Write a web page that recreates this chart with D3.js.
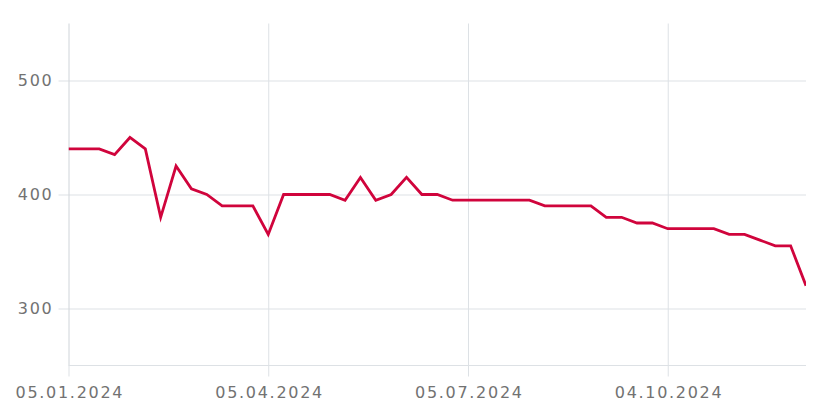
<!DOCTYPE html>
<html>
<head>
<meta charset="utf-8">
<script src="https://cdn.jsdelivr.net/npm/d3@7"></script>
<style>
  html, body { margin: 0; padding: 0; background: #fff; }
  svg { display: block; }
  .tick text { font-family: "DejaVu Sans", sans-serif; font-size: 16px; fill: #727272; letter-spacing: 1.7px; }
</style>
</head>
<body>
<svg id="chart" width="820" height="413"></svg>
<script>
const dates = [
  "2024-01-05","2024-01-12","2024-01-19","2024-01-26",
  "2024-02-02","2024-02-09","2024-02-16","2024-02-23",
  "2024-03-01","2024-03-08","2024-03-15","2024-03-22","2024-03-29",
  "2024-04-05","2024-04-12","2024-04-19","2024-04-26",
  "2024-05-03","2024-05-10","2024-05-17","2024-05-24","2024-05-31",
  "2024-06-07","2024-06-14","2024-06-21","2024-06-28",
  "2024-07-05","2024-07-12","2024-07-19","2024-07-26",
  "2024-08-02","2024-08-09","2024-08-16","2024-08-23","2024-08-30",
  "2024-09-06","2024-09-13","2024-09-20","2024-09-27",
  "2024-10-04","2024-10-11","2024-10-18","2024-10-25",
  "2024-11-01","2024-11-08","2024-11-15","2024-11-22","2024-11-29",
  "2024-12-06"
];
const values = [
  440,440,440,435,450,440,380,425,405,400,
  390,390,390,365,400,400,400,400,395,415,
  395,400,415,400,400,395,395,395,395,395,
  395,390,390,390,390,380,380,375,375,370,
  370,370,370,365,365,360,355,355,320
];
const xTickDates = ["2024-01-05","2024-04-05","2024-07-05","2024-10-04"];
const xTickLabels = ["05.01.2024","05.04.2024","05.07.2024","04.10.2024"];
const yTicks = [300, 400, 500];
const yDomain = [250, 550];

(function () {
const parse = d3.utcParse("%Y-%m-%d");
const data = dates.map((d, i) => ({ date: parse(d), value: values[i] }));

const mLeft = 68.5, mRight = 806, mTop = 23.5, mBottom = 365.5;
const svg = d3.select("#chart");

const x = d3.scaleUtc()
  .domain([data[0].date, data[data.length - 1].date])
  .range([mLeft, mRight]);
const y = d3.scaleLinear().domain(yDomain).range([mBottom, mTop]);

const gridColor = "#dde1e5";

// Y axis with gridlines
const yAxis = d3.axisLeft(y)
  .tickValues(yTicks)
  .tickSize(10)
  .tickPadding(5)
  .tickFormat(d3.format("d"));
const gy = svg.append("g").attr("transform", `translate(${mLeft},0)`).call(yAxis);
gy.select(".domain").remove();
gy.selectAll(".tick line").attr("stroke", gridColor);
gy.selectAll(".tick").append("line")
  .attr("x1", 0).attr("x2", mRight - mLeft)
  .attr("stroke", gridColor);

// X axis with gridlines
const xAxis = d3.axisBottom(x)
  .tickValues(xTickDates.map(parse))
  .tickSize(11)
  .tickPadding(10)
  .tickFormat((d, i) => xTickLabels[i]);
const gx = svg.append("g").attr("transform", `translate(0,${mBottom})`).call(xAxis);
gx.select(".domain").remove();
gx.selectAll(".tick line").attr("stroke", gridColor);
gx.selectAll(".tick").append("line")
  .attr("y1", 0).attr("y2", mTop - mBottom)
  .attr("stroke", (d, i) => i === 0 ? "#cfd4d9" : gridColor);
gx.selectAll(".tick text").attr("dx", "0.85px");

// bottom baseline
svg.append("line")
  .attr("x1", mLeft).attr("x2", mRight)
  .attr("y1", y(yDomain[0])).attr("y2", y(yDomain[0]))
  .attr("stroke", gridColor);

// line
svg.append("clipPath").attr("id", "clip").append("rect")
  .attr("x", mLeft).attr("y", mTop).attr("width", mRight - mLeft).attr("height", mBottom - mTop);
svg.append("path")
  .datum(data)
  .attr("clip-path", "url(#clip)")
  .attr("fill", "none")
  .attr("stroke", "#d0043c")
  .attr("stroke-width", 2.8)
  .attr("stroke-linejoin", "miter")
  .attr("d", d3.line().x(d => x(d.date)).y(d => y(d.value)));
})();
</script>
</body>
</html>
